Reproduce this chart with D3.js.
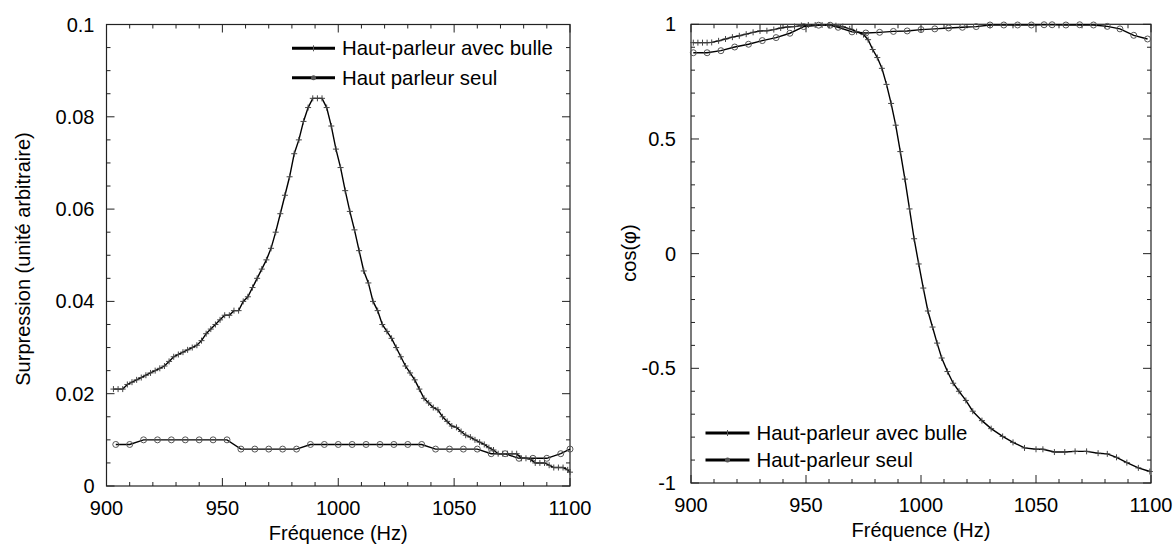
<!DOCTYPE html>
<html>
<head>
<meta charset="utf-8">
<script src="https://cdn.jsdelivr.net/npm/d3@7/dist/d3.min.js"></script>
<style>
  html, body { margin: 0; padding: 0; background: #fff; }
  svg text { font-family: Arial, "Liberation Sans", sans-serif; fill: #000; }
</style>
</head>
<body>
<svg id="chart" width="1173" height="550"></svg>
<script>
// ---------- DATA ----------
// Left panel : Surpression (unité arbitraire)
const leftBulleFreq = [903,905,907,909,911,913,915,917,919,921,923,925,927,929,931,933,935,937,939,941,943,945,947,949,951,953,955,957,959,961,963,965,967,969,971,973,975,977,979,981,983,985,987,989,991,993,995,997,999,1001,1003,1005,1007,1009,1011,1013,1015,1017,1019,1021,1023,1025,1027,1029,1031,1033,1035,1037,1039,1041,1043,1045,1047,1049,1051,1053,1055,1057,1059,1061,1063,1065,1067,1069,1071,1073,1075,1077,1079,1081,1083,1085,1087,1089,1091,1093,1095,1097,1099,1100];
const leftBulleVal = [0.021,0.021,0.021,0.022,0.0225,0.023,0.0235,0.024,0.0245,0.025,0.0255,0.026,0.027,0.028,0.0285,0.029,0.0295,0.030,0.0305,0.0315,0.033,0.034,0.035,0.036,0.037,0.037,0.038,0.038,0.040,0.041,0.043,0.045,0.047,0.049,0.0515,0.055,0.059,0.063,0.067,0.072,0.075,0.079,0.082,0.084,0.084,0.084,0.082,0.078,0.073,0.069,0.064,0.0595,0.0555,0.051,0.0466,0.044,0.040,0.038,0.035,0.0335,0.032,0.030,0.028,0.026,0.0245,0.023,0.021,0.019,0.018,0.017,0.0165,0.015,0.014,0.013,0.0127,0.0118,0.011,0.0106,0.010,0.0095,0.009,0.0083,0.0078,0.007,0.007,0.007,0.007,0.007,0.006,0.006,0.0058,0.005,0.005,0.005,0.0045,0.004,0.004,0.004,0.0035,0.003];
const leftSeulFreq = [904,910,916,922,928,934,940,946,952,958,964,970,976,982,988,994,1000,1006,1012,1018,1024,1030,1036,1042,1048,1054,1060,1066,1072,1078,1084,1090,1096,1100];
const leftSeulVal = [0.009,0.009,0.010,0.010,0.010,0.010,0.010,0.010,0.010,0.008,0.008,0.008,0.008,0.008,0.009,0.009,0.009,0.009,0.009,0.009,0.009,0.009,0.009,0.008,0.008,0.008,0.008,0.007,0.007,0.006,0.006,0.006,0.007,0.008];
const leftYTicks = [0, 0.02, 0.04, 0.06, 0.08, 0.1];
const leftYTickLabels = ["0", "0.02", "0.04", "0.06", "0.08", "0.1"];
const leftLegend = ["Haut-parleur avec bulle", "Haut parleur seul"];

// Right panel : cos(phi)
const rightBulleFreq = [901,903,905,907,909,912,915,918,921,924,927,930,933,936,939,942,945,948,951,954,957,960,963,966,969,972,975,977,979,981,983,985,987,989,991,993,995,997,999,1001,1003,1005,1007,1009,1011.5,1014,1016.5,1019.5,1022.5,1026.5,1030.5,1035.5,1040,1045,1050,1053,1058,1062.5,1067,1072,1077,1081,1085,1089.5,1094.5,1099.5];
const rightBulleVal = [0.92,0.92,0.92,0.92,0.921,0.928,0.936,0.944,0.95,0.957,0.965,0.971,0.972,0.977,0.984,0.988,0.99,0.995,0.997,0.997,0.997,0.996,0.994,0.99,0.98,0.968,0.955,0.933,0.89,0.855,0.808,0.738,0.655,0.56,0.445,0.325,0.195,0.065,-0.045,-0.15,-0.25,-0.32,-0.39,-0.455,-0.514,-0.565,-0.6,-0.64,-0.687,-0.728,-0.763,-0.797,-0.823,-0.847,-0.853,-0.853,-0.865,-0.865,-0.862,-0.862,-0.87,-0.873,-0.888,-0.911,-0.934,-0.95];
const rightSeulFreq = [901,907,913,919,925,931,937,943,949,955.5,960.5,964,970,976,982,988,994,1000,1006,1012,1018,1024,1030,1036,1042,1048,1053.5,1057,1063,1069,1075,1081,1086.5,1092.5,1098.5];
const rightSeulVal = [0.876,0.876,0.885,0.901,0.913,0.929,0.942,0.961,0.99,0.996,0.996,0.987,0.967,0.962,0.965,0.969,0.971,0.977,0.98,0.984,0.987,0.99,0.997,0.997,0.997,0.997,0.998,0.998,0.997,0.998,0.997,0.991,0.98,0.952,0.936];
const rightYTicks = [-1, -0.5, 0, 0.5, 1];
const rightYTickLabels = ["-1", "-0.5", "0", "0.5", "1"];
const rightLegend = ["Haut-parleur avec bulle", "Haut-parleur seul"];

const xTicks = [900, 950, 1000, 1050, 1100];
const xTickLabels = ["900", "950", "1000", "1050", "1100"];
const xTitle = "Fréquence (Hz)";
const leftYTitle = "Surpression (unité arbitraire)";
const rightYTitle = "cos(φ)";

// ---------- DRAW ----------
const svg = d3.select("#chart");
const FS = 20;

function panel(cfg) {
  const x = d3.scaleLinear().domain([900, 1100]).range([cfg.x0, cfg.x1]);
  const y = d3.scaleLinear().domain(cfg.yDomain).range([cfg.y1, cfg.y0]);
  const g = svg.append("g");

  // frame
  g.append("rect").attr("x", cfg.x0).attr("y", cfg.y0)
    .attr("width", cfg.x1 - cfg.x0).attr("height", cfg.y1 - cfg.y0)
    .attr("fill", "none").attr("stroke", "#222").attr("stroke-width", 1.2);

  // ticks (inward on all 4 sides)
  const xMinor = d3.range(900, 1100.001, 10);
  const yMinor = d3.range(cfg.yDomain[0], cfg.yDomain[1] + 1e-9, cfg.yMinorStep);
  const tg = g.append("g").attr("stroke", "#222").attr("stroke-width", 1);
  xMinor.forEach(v => {
    const major = xTicks.indexOf(Math.round(v)) >= 0;
    const L = major ? 8 : 4;
    tg.append("line").attr("x1", x(v)).attr("x2", x(v)).attr("y1", cfg.y1).attr("y2", cfg.y1 - L);
    tg.append("line").attr("x1", x(v)).attr("x2", x(v)).attr("y1", cfg.y0).attr("y2", cfg.y0 + L);
  });
  yMinor.forEach(v => {
    const major = cfg.yTicks.some(t => Math.abs(t - v) < 1e-9);
    const L = major ? 8 : 4;
    tg.append("line").attr("y1", y(v)).attr("y2", y(v)).attr("x1", cfg.x0).attr("x2", cfg.x0 + L);
    tg.append("line").attr("y1", y(v)).attr("y2", y(v)).attr("x1", cfg.x1).attr("x2", cfg.x1 - L);
  });

  // tick labels
  xTicks.forEach((v, i) => {
    g.append("text").attr("x", x(v)).attr("y", cfg.y1 + 29)
      .attr("text-anchor", "middle").attr("font-size", FS).text(xTickLabels[i]);
  });
  cfg.yTicks.forEach((v, i) => {
    g.append("text").attr("x", cfg.x0 - cfg.yLabelGap).attr("y", y(v) + 7)
      .attr("text-anchor", "end").attr("font-size", FS).text(cfg.yTickLabels[i]);
  });

  // axis titles
  g.append("text").attr("x", (cfg.x0 + cfg.x1) / 2).attr("y", cfg.y1 + 54)
    .attr("text-anchor", "middle").attr("font-size", FS).text(xTitle);
  g.append("text").attr("transform", `translate(${cfg.yTitleX},${cfg.yTitleY}) rotate(-90)`)
    .attr("text-anchor", "middle").attr("font-size", FS).text(cfg.yTitle);

  // series
  const line = d3.line().x(d => x(d[0])).y(d => y(d[1]));
  const bulle = cfg.bulleF.map((f, i) => [f, cfg.bulleV[i]]);
  const seul = cfg.seulF.map((f, i) => [f, cfg.seulV[i]]);

  g.append("path").datum(seul).attr("d", line).attr("fill", "none")
    .attr("stroke", "#000").attr("stroke-width", 1.4);
  g.append("g").selectAll("circle").data(seul).join("circle")
    .attr("cx", d => x(d[0])).attr("cy", d => y(d[1])).attr("r", 3)
    .attr("fill", "none").attr("stroke", "#555").attr("stroke-width", 1);

  g.append("path").datum(bulle).attr("d", line).attr("fill", "none")
    .attr("stroke", "#000").attr("stroke-width", 1.4);
  g.append("g").selectAll("path").data(bulle).join("path")
    .attr("d", d => {
      const px = x(d[0]), py = y(d[1]);
      return `M${px - 3},${py}H${px + 3}M${px},${py - 3}V${py + 3}`;
    })
    .attr("stroke", "#444").attr("stroke-width", 1);

  // legend
  const lg = g.append("g");
  cfg.legend.forEach((name, i) => {
    const ly = cfg.legY[i];
    lg.append("line").attr("x1", cfg.legX0).attr("x2", cfg.legX1).attr("y1", ly).attr("y2", ly)
      .attr("stroke", "#000").attr("stroke-width", 3);
    const mx = (cfg.legX0 + cfg.legX1) / 2;
    if (i === 0) {
      lg.append("path").attr("d", `M${mx},${ly - 3}V${ly + 3}`).attr("stroke", "#555").attr("stroke-width", 1);
    } else {
      lg.append("circle").attr("cx", mx).attr("cy", ly).attr("r", 2.5).attr("fill", "#555");
    }
    lg.append("text").attr("x", cfg.legX1 + 7).attr("y", ly + 7)
      .attr("font-size", 20.4).text(name);
  });
}

panel({
  x0: 106.5, x1: 570, y0: 24.5, y1: 486,
  yDomain: [0, 0.1], yMinorStep: 0.005,
  yTicks: leftYTicks, yTickLabels: leftYTickLabels, yLabelGap: 12,
  yTitle: leftYTitle, yTitleX: 30, yTitleY: 259,
  bulleF: leftBulleFreq, bulleV: leftBulleVal,
  seulF: leftSeulFreq, seulV: leftSeulVal,
  legend: leftLegend, legX0: 292, legX1: 335, legY: [48.3, 77.7]
});

panel({
  x0: 691, x1: 1151, y0: 24.3, y1: 483,
  yDomain: [-1, 1], yMinorStep: 0.1,
  yTicks: rightYTicks, yTickLabels: rightYTickLabels, yLabelGap: 15,
  yTitle: rightYTitle, yTitleX: 636, yTitleY: 253,
  bulleF: rightBulleFreq, bulleV: rightBulleVal,
  seulF: rightSeulFreq, seulV: rightSeulVal,
  legend: rightLegend, legX0: 705.5, legX1: 749.5, legY: [433, 460]
});
</script>
</body>
</html>
